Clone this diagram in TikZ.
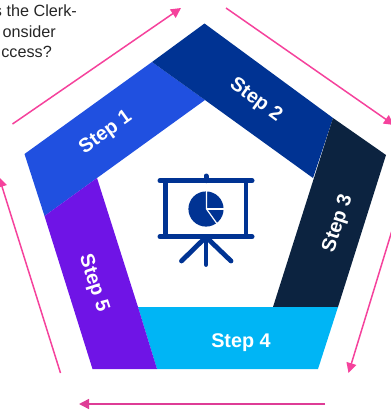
\documentclass[tikz,border=0pt]{standalone}
\usepackage{fontspec}
\setmainfont{Liberation Sans}
\usetikzlibrary{arrows.meta}
\definecolor{cOne}{HTML}{2050E0}
\definecolor{cTwo}{HTML}{003393}
\definecolor{cThree}{HTML}{0C2340}
\definecolor{cFour}{HTML}{00B5F5}
\definecolor{cFive}{HTML}{6F14E6}
\definecolor{cPink}{HTML}{F5429C}
\definecolor{cPinkDark}{HTML}{DE3C96}
\definecolor{cText}{HTML}{262626}
\tikzset{
  x=1pt,y=-1pt,
  steplabel/.style={text=white,font=\fontsize{19.8}{22}\selectfont\bfseries,inner sep=0pt,text height=14.2pt,text depth=0pt},
  notetext/.style={text=cText,font=\fontsize{16.2}{20}\selectfont,inner sep=0pt,anchor=base east},
  flow/.style={cPink,line width=1.5pt,-{Triangle[length=10pt,width=10pt]}},
  iconline/.style={cTwo,line width=5pt,line cap=round},
  iconthin/.style={cTwo,line width=4.8pt,line cap=round},
  gap/.style={white,line width=1.2pt},
}
\begin{document}
\begin{tikzpicture}
\path[use as bounding box] (0,0) rectangle (391,410);
\clip (0,0) rectangle (391,410);
% band segments
\fill[cOne] (24.5,154) -- (152,62) -- (205,100) -- (97,178) -- (44.5,216) -- cycle;
\fill[cTwo] (152,62) -- (204.5,23.5) -- (333,118) -- (313,178) -- (205,100) -- cycle;
\fill[cThree] (333,118) -- (386,155) -- (338,307) -- (273,307) -- cycle;
\fill[cFour] (138,307) -- (338,307) -- (318,369) -- (157,369) -- cycle;
\fill[cFive] (44.5,216) -- (97,178) -- (138,307) -- (157,369) -- (92.5,369) -- cycle;
% labels
\node[steplabel,rotate=35.8] (s1) at (104.5,131) {Step 1};
\node[steplabel,rotate=-36] (s2) at (257,98.5) {Step 2};
\node[steplabel,rotate=72] (s3) at (336,223) {Step 3};
\node[steplabel] (s4) at (241,340) {Step 4};
\node[steplabel,rotate=-72] (s5) at (95.5,282.5) {Step 5};
% arrows
\coordinate (a1s) at (12.5,124); \coordinate (a1e) at (181,8);
\coordinate (a2s) at (226,8);    \coordinate (a2e) at (394,125);
\coordinate (a3s) at (394,224);  \coordinate (a3e) at (348.5,373);
\coordinate (a4s) at (325,404);  \coordinate (a4e) at (79,404);
\coordinate (a5s) at (60.5,373); \coordinate (a5e) at (-1,177);
\draw[flow] (a1s) -- (a1e);
\draw[flow] (a2s) -- (a2e);
\draw[flow] (a3s) -- (a3e);
\draw[flow,cPinkDark] (a4s) -- (a4e);
\draw[flow] (a5s) -- (a5e);
% clipped text
\node[notetext] (t1) at (77,16.5) {s the Clerk-};
\node[notetext] (t2) at (56,37) {onsider};
\node[notetext] (t3) at (52,57.5) {ccess?};
% presentation icon
\draw[iconline] (160,180.7) -- (252,180.7);
\draw[iconline] (160,236.7) -- (252,236.7);
\draw[iconline] (206,176) -- (206,180.7);
\draw[iconthin,line cap=butt] (165.7,180.7) -- (165.7,236.7);
\draw[iconthin,line cap=butt] (246,180.7) -- (246,236.7);
\draw[iconthin] (206,237) -- (206,264.5);
\draw[iconthin] (206,237) -- (181.5,261);
\draw[iconthin] (206,237) -- (231,261);
\fill[cTwo] (206,209) circle[radius=17.6];
\draw[gap] (206.5,190) -- (206.5,209) -- (219,226.5);
\draw[gap] (206.5,209) -- (225,209);
\end{tikzpicture}
\end{document}
